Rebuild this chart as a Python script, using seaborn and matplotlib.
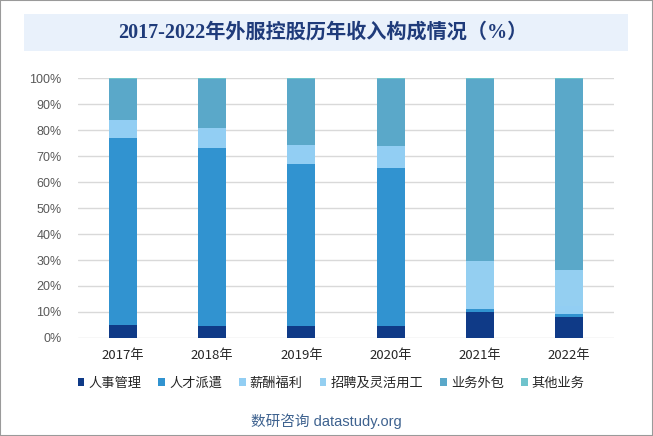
import numpy as np
import pandas as pd
import matplotlib
matplotlib.use("Agg")
import matplotlib.pyplot as plt
import seaborn as sns
from matplotlib.patches import Patch, Rectangle

# data (share of revenue, %)
years = ["2017年", "2018年", "2019年", "2020年", "2021年", "2022年"]
segments = ["人事管理", "人才派遣", "薪酬福利", "招聘及灵活用工", "业务外包", "其他业务"]
hr_mgmt = [5.0, 4.6, 4.6, 4.6, 10.0, 8.1]
dispatch = [71.9, 68.5, 62.3, 60.8, 1.2, 1.1]
payroll = [6.9, 7.7, 7.3, 8.4, 3.6, 3.2]
recruit = [0.0, 0.0, 0.0, 0.0, 14.8, 13.8]
outsourcing = [15.9, 18.9, 25.5, 25.9, 70.1, 73.5]
other = [0.3, 0.3, 0.3, 0.3, 0.3, 0.3]
colors = ["#0F3A87", "#3193D0", "#92CEF3", "#94CFF1", "#5AA8C9", "#6FC3CC"]

sns.set_theme(style="white")
plt.rcParams["font.family"] = ["Noto Sans CJK SC", "DejaVu Sans"]

fig = plt.figure(figsize=(6.53, 4.36), dpi=100)
ax = fig.add_axes([0.12, 0.2248, 0.8197, 0.5962])

# stacked bars, one seaborn call per segment
series = [hr_mgmt, dispatch, payroll, recruit, outsourcing, other]
bottom = np.zeros(len(years))
for name, vals, c in zip(segments, series, colors):
    vals = np.array(vals) / 100.0
    sns.barplot(x=years, y=vals, bottom=bottom, color=c, width=0.314,
                saturation=1, ax=ax, linewidth=0)
    bottom = bottom + vals

ax.set_ylim(0, 1)
ax.set_xlim(-0.5, len(years) - 0.5)
ax.set_yticks(np.arange(0, 1.01, 0.1))
ax.set_yticklabels([f"{int(round(v * 100))}%" for v in np.arange(0, 1.01, 0.1)],
                   fontsize=9, color="#595959", family=["Liberation Sans", "DejaVu Sans"])
ax.tick_params(axis="y", length=0, pad=12)
ax.tick_params(axis="x", length=0, pad=8, labelsize=9.5, labelcolor="#262626")
ax.set_xlabel("")
ax.set_ylabel("")
ax.set_axisbelow(True)
ax.yaxis.grid(True, color="#D9D9D9", linewidth=1)
ax.xaxis.grid(False)
for s in ax.spines.values():
    s.set_visible(False)

# title box
fig.patches.append(Rectangle((24 / 653, 1 - 50.5 / 436), 604 / 653, 36.5 / 436,
                             transform=fig.transFigure, facecolor="#E9F1FB",
                             edgecolor="none", zorder=0))
fig.text(0.495, 1 - 33 / 436, "2017-2022年外服控股历年收入构成情况（%）",
         ha="center", va="center", fontsize=14.5, fontweight="bold",
         color="#1F3B7A", family=["Liberation Serif", "Noto Sans CJK SC"])

# legend
handles = [Patch(facecolor=c, edgecolor="none") for c in colors]
fig.legend(handles, segments, loc="center left", bbox_to_anchor=(0.119, 1 - 383 / 436),
           ncol=6, frameon=False, fontsize=9.5, handlelength=0.5, handleheight=0.5,
           handletextpad=0.3, columnspacing=1.3, borderaxespad=0, borderpad=0)

fig.text(0.5, 1 - 421 / 436, "数研咨询 datastudy.org", ha="center", va="center",
         fontsize=10.5, color="#3E628F", family=["Liberation Sans", "Noto Sans CJK SC"])

# outer frame
fig.patches.append(Rectangle((0, 0), 1, 1, transform=fig.transFigure, fill=False,
                             edgecolor="#9A9A9A", linewidth=1.5))

fig.savefig("out.png", dpi=100)
